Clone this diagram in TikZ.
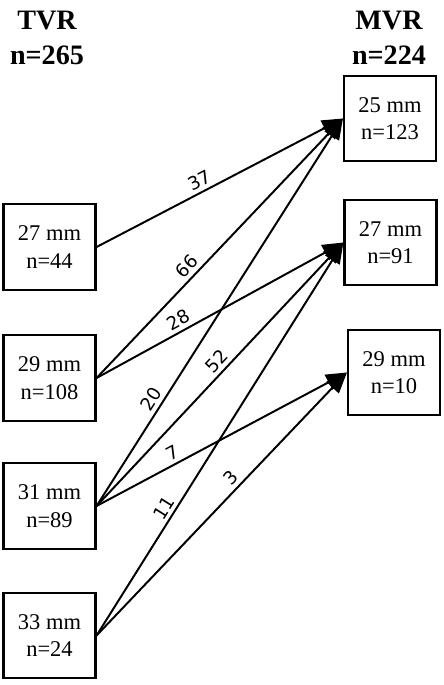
\documentclass[tikz,border=0pt]{standalone}
\usepackage{fontspec}
\setmainfont{Liberation Serif}
\newfontfamily\lblfont{DejaVu Sans}
\usetikzlibrary{arrows.meta, positioning}

\begin{document}
\begin{tikzpicture}[x=0.025cm, y=-0.025cm,
    caja/.style={draw, line width=1.5pt, minimum width=2.3cm, minimum height=2.13cm,
        align=center, font=\fontsize{16}{19.5}\selectfont, inner sep=0pt},
    titulo/.style={align=center, font=\fontsize{20}{25}\bfseries},
    flecha/.style={line width=1.4pt, -{Triangle[length=0.52cm, width=0.42cm]}},
    cuenta/.style={sloped, above, font=\lblfont\fontsize{13}{15}\selectfont, inner sep=2.5pt}]
            \useasboundingbox (0,0) rectangle (444,685);

            % Titulos de columnas
            \node[titulo] (tvr) at (47,38) {TVR\\n=265};
            \node[titulo] (mvr) at (389,38) {MVR\\n=224};

            % Tamanos TVR (izquierda)
            \node[caja] (t27) at (49.5,247) {27 mm\\n=44};
            \node[caja] (t29) at (49.5,378) {29 mm\\n=108};
            \node[caja] (t31) at (49.5,506) {31 mm\\n=89};
            \node[caja] (t33) at (49.5,635.5) {33 mm\\n=24};

            % Tamanos MVR (derecha)
            \node[caja] (m25) at (390,118.5) {25 mm\\n=123};
            \node[caja] (m27) at (390.5,242.5) {27 mm\\n=91};
            \node[caja] (m29) at (394,372.5) {29 mm\\n=10};

            % Transiciones
            \draw[flecha] (t27.east) -- node[cuenta, pos=0.44] {37} (m25.west);
            \draw[flecha] (t29.east) -- node[cuenta, pos=0.40] {66} (m25.west);
            \draw[flecha] (t31.east) -- node[cuenta, pos=0.26] {20} (m25.west);
            \draw[flecha] (t29.east) -- node[cuenta, pos=0.355] {28} (m27.west);
            \draw[flecha] (t31.east) -- node[cuenta, pos=0.52] {52} (m27.west);
            \draw[flecha] (t33.east) -- node[cuenta, pos=0.31] {11} (m27.west);
            \draw[flecha] (t31.east) -- node[cuenta, pos=0.325] {7} (m29.west);
            \draw[flecha] (t33.east) -- node[cuenta, pos=0.57] {3} (m29.west);
        \end{tikzpicture}
\end{document}
